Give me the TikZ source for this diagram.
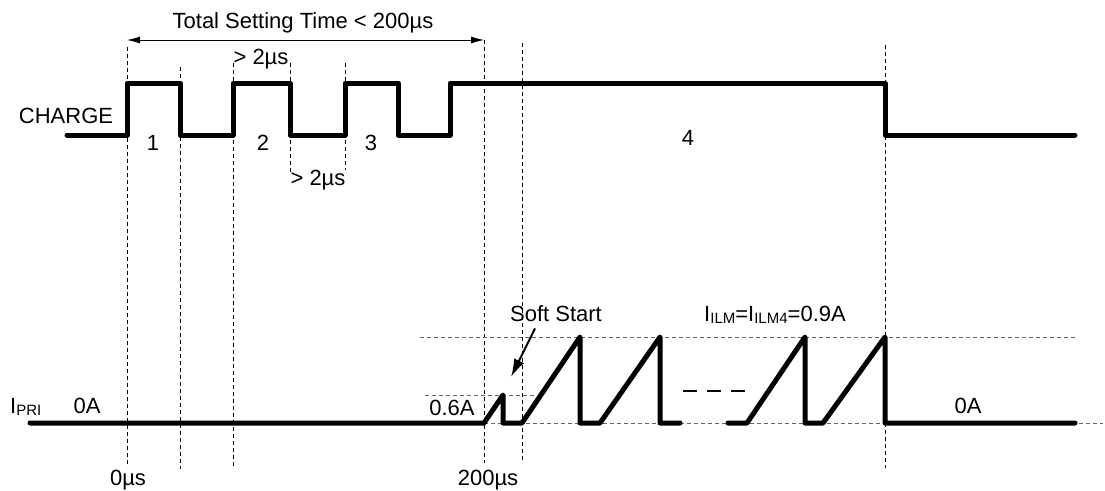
\documentclass[tikz,border=0pt]{standalone}
\usepackage{fontspec}
\setmainfont{Liberation Sans}
\usepackage{tikz}
\usetikzlibrary{arrows.meta,positioning}

\newcommand{\lowsub}[1]{\raisebox{-2pt}{\fontsize{15}{18}\selectfont #1}}

\begin{document}
\begin{tikzpicture}[x=1pt, y=-1pt, >={Latex[length=13pt,width=7pt]},
    wave/.style={line width=5pt, line cap=round, line join=round},
    guide/.style={line width=0.8pt, dash pattern=on 4pt off 3pt},
    level/.style={guide, black!60},
    lbl/.style={font=\fontsize{22}{26}\selectfont, inner sep=0pt, anchor=base}]
    \useasboundingbox (0,0) rectangle (1105,490);

    % Time marks
    \coordinate (t0) at (127,40);
    \coordinate (t200) at (484,40);
    \coordinate (softtip) at (511,377);

    % Vertical guides
    \draw[guide] (127,47) -- (127,467);
    \draw[guide] (180,67) -- (180,469);
    \draw[guide] (233,63) -- (233,469);
    \draw[guide] (290,63) -- (290,172);
    \draw[guide] (345,63) -- (345,170);
    \draw[guide] (484,40) -- (484,463);
    \draw[guide] (522,43) -- (522,463);
    \draw[guide] (885,45) -- (885,468);

    % Current levels
    \draw[level] (420,337) -- (1077,337);
    \draw[level] (425,395) -- (537,395);
    \draw[level] (484,423) -- (1103,423);

    % CHARGE
    \draw[wave] (67,135) -- (127,135) -- (127,83) -- (180,83) -- (180,135)
        -- (233,135) -- (233,83) -- (290,83) -- (290,135)
        -- (345,135) -- (345,83) -- (398,83) -- (398,135)
        -- (450,135) -- (450,83) -- (885,83) -- (885,135) -- (1075,135);

    % IPRI
    \draw[wave] (30,423) -- (484,423) -- (503,395) -- (503,423) -- (522,423)
        -- (580,337) -- (580,423) -- (600,423) -- (660,337) -- (660,423) -- (680,423);
    \draw[wave] (728,423) -- (747,423) -- (805,337) -- (805,423) -- (823,423)
        -- (885,337) -- (885,423) -- (1075,423);
    \draw[line width=2pt, dash pattern=on 14pt off 10pt] (683,391) -- (745,391);

    % Labels
    \node[lbl] (total) at (303,28) {Total Setting Time < 200µs};
    \draw[<->, line width=0.9pt] (t0) -- (t200);

    \node[lbl] (charge) at (66,123) {CHARGE};
    \node[lbl] (p1) at (153,150) {1};
    \node[lbl] (p2) at (263,150) {2};
    \node[lbl] (p3) at (371,150) {3};
    \node[lbl] (p4) at (688,145) {4};
    \node[lbl] (hightime) at (261,64) {> 2µs};
    \node[lbl] (lowtime) at (318,185) {> 2µs};

    \node[lbl, anchor=base west] (ipri) at (10,413) {I\lowsub{PRI}};
    \node[lbl] (zeroa) at (87,413) {0A};
    \node[lbl] (zeroa2) at (968,413) {0A};
    \node[lbl] (sixa) at (452,415) {0.6A};
    \node[lbl] (zerous) at (128,485) {0µs};
    \node[lbl] (twous) at (488,485) {200µs};
    \node[lbl] (ilm) at (775,321) {I\lowsub{ILM}=I\lowsub{ILM4}=0.9A};

    \node[lbl] (soft) at (556,321) {Soft Start};
    \draw[-{Latex[length=18pt,width=11pt]}, line width=2pt] ([xshift=-21pt,yshift=-7pt]soft.south) -- (softtip);
\end{tikzpicture}
\end{document}
